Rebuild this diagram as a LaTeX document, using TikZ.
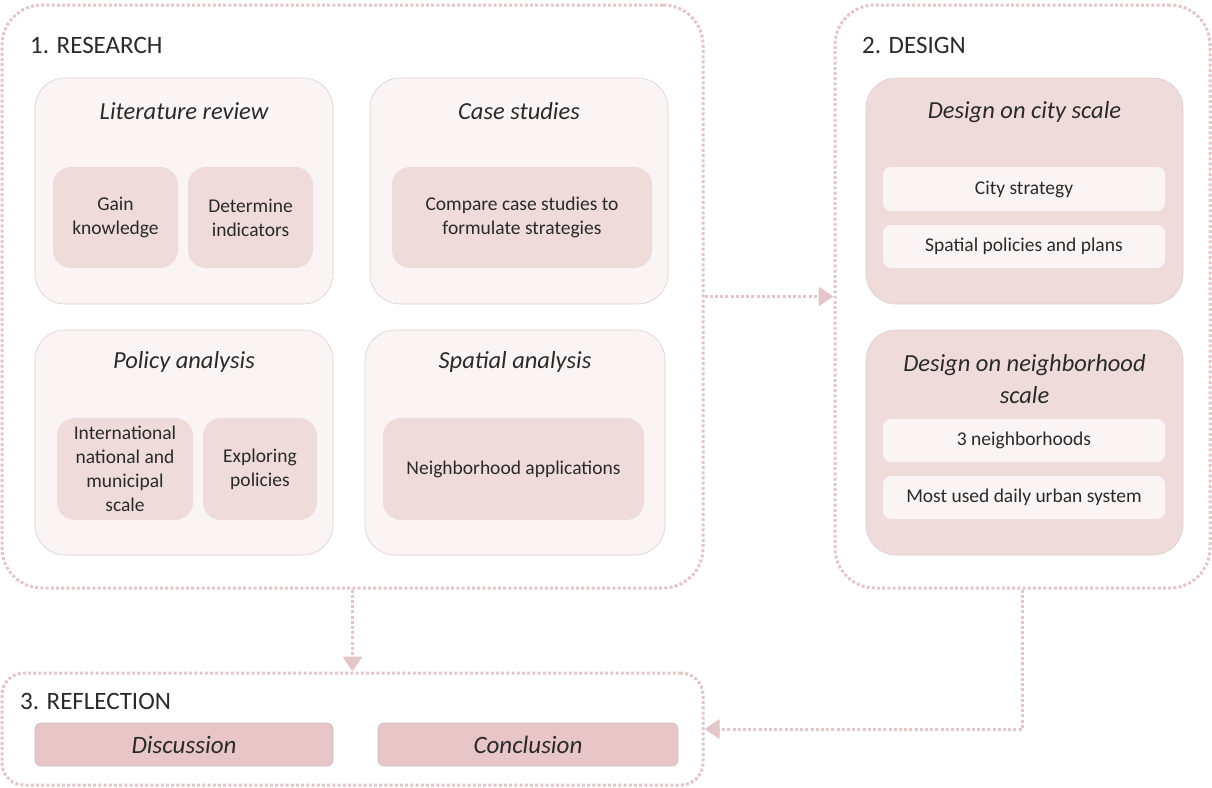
\documentclass[tikz,border=0pt]{standalone}
\usepackage{fontspec}
\setmainfont{Carlito}
\usetikzlibrary{arrows.meta,calc}
\definecolor{dotc}{HTML}{E3C6C8}
\definecolor{lightfill}{HTML}{FBF4F4}
\definecolor{midfill}{HTML}{F0DBDB}
\definecolor{darkfill}{HTML}{E8C5C7}
\definecolor{thinline}{HTML}{DCCFCF}
\definecolor{txt}{HTML}{2A2A2A}
\tikzset{
  outerbox/.style={draw=dotc, line width=3pt, dash pattern=on 3pt off 2.2pt, rounded corners=40pt, inner sep=0pt},
  groupbox/.style={draw=thinline, line width=0.6pt, fill=lightfill, rounded corners=30pt, inner sep=0pt},
  designbox/.style={draw=thinline, line width=0.6pt, fill=midfill, rounded corners=30pt, inner sep=0pt},
  subbox/.style={fill=midfill, rounded corners=18pt, inner sep=0pt, align=center, text=txt, font=\fontsize{19.5}{24}\selectfont},
  wbox/.style={fill=lightfill, rounded corners=8pt, inner sep=0pt, align=center, text=txt, font=\fontsize{19.5}{24}\selectfont},
  refbox/.style={draw=thinline!80!gray, line width=0.6pt, fill=darkfill, rounded corners=6pt, inner sep=0pt, text=txt, font=\fontsize{25}{28}\selectfont\itshape},
  gtitle/.style={text=txt, font=\fontsize{24.5}{32}\selectfont\itshape, align=center, inner sep=0pt},
  stitle/.style={text=txt, font=\fontsize{25}{28}\selectfont, anchor=base west, inner sep=0pt},
  conn/.style={draw=dotc, line width=3pt, dash pattern=on 3pt off 2.2pt, -{Triangle[length=15pt,width=19pt,fill=dotc]}},
}
\begin{document}
\begin{tikzpicture}[x=1pt,y=-1pt]
\useasboundingbox (0,0) rectangle (1212,787);
% outer boxes
\node[outerbox, minimum width=701pt, minimum height=583pt] (research) at (352.5,296.5) {};
\node[outerbox, minimum width=375pt, minimum height=583pt] (design) at (1022.5,296.5) {};
\node[outerbox, rounded corners=22pt, minimum width=701pt, minimum height=112pt] (reflection) at (352.5,729) {};
% section titles
\node[stitle] (t1) at (30,53) {1. RESEARCH};
\node[stitle] (t2) at (862,53) {2. DESIGN};
\node[stitle] (t3) at (20,709) {3. REFLECTION};
% research groups
\node[groupbox, minimum width=298pt, minimum height=226pt] (lit) at (184,191) {};
\node[groupbox, minimum width=298pt, minimum height=226pt] (case) at (519,191) {};
\node[groupbox, minimum width=298pt, minimum height=225pt] (pol) at (184,442.5) {};
\node[groupbox, minimum width=300pt, minimum height=225pt] (spa) at (515,442.5) {};
\node[gtitle] (litt) at (184,111) {Literature review};
\node[gtitle] (caset) at (519,111) {Case studies};
\node[gtitle] (polt) at (184,362) {Policy analysis};
\node[gtitle] (spat) at (515,362) {Spatial analysis};
\node[subbox, minimum width=125pt, minimum height=101pt] (gain) at (115.5,217.5) {Gain\\knowledge};
\node[subbox, minimum width=125pt, minimum height=101pt] (det) at (250.5,217.5) {Determine\\indicators};
\node[subbox, minimum width=260pt, minimum height=101pt] (comp) at (522,217.5) {Compare case studies to\\formulate strategies};
\node[subbox, minimum width=136pt, minimum height=102pt] (intl) at (125,469) {International\\national and\\municipal\\scale};
\node[subbox, minimum width=114pt, minimum height=102pt] (expl) at (260,469) {Exploring\\policies};
\node[subbox, minimum width=261pt, minimum height=102pt] (neigh) at (513.5,469) {Neighborhood applications};
% design groups
\node[designbox, minimum width=317pt, minimum height=226pt] (city) at (1024.5,191) {};
\node[designbox, minimum width=317pt, minimum height=225pt] (nbh) at (1024.5,442.5) {};
\node[gtitle] (cityt) at (1024.5,112) {Design on city scale};
\node[gtitle] (nbht) at (1024.5,379) {Design on neighborhood\\scale};
\node[wbox, minimum width=282pt, minimum height=44pt] (cs) at (1024,189) {City strategy};
\node[wbox, minimum width=282pt, minimum height=43pt] (sp) at (1024,246.5) {Spatial policies and plans};
\node[wbox, minimum width=282pt, minimum height=43pt] (n3) at (1024,440.5) {3 neighborhoods};
\node[wbox, minimum width=282pt, minimum height=43pt] (mu) at (1024,497.5) {Most used daily urban system};
% reflection
\node[refbox, minimum width=298pt, minimum height=43pt] (disc) at (184,744.5) {Discussion};
\node[refbox, minimum width=300pt, minimum height=43pt] (conc) at (528,744.5) {Conclusion};
% connectors
\draw[conn] (research.east) -- (design.west);
\draw[conn] (research.south) -- (reflection.north);
\draw[conn] (design.south) |- (reflection.east);
\end{tikzpicture}
\end{document}
